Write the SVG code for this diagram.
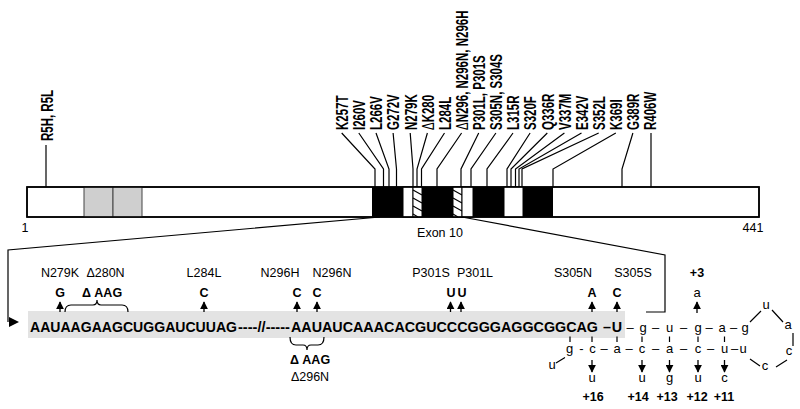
<svg xmlns="http://www.w3.org/2000/svg" width="800" height="409" viewBox="0 0 800 409">
<style>
  .ln{stroke:#000;stroke-width:1.2;fill:none}
  .rl{font-family:"Liberation Sans",Arial,sans-serif;font-weight:bold;font-size:11.5px;fill:#000}
  .rl .d{font-weight:normal}
  .lab{font-family:"Liberation Sans",Arial,sans-serif;font-size:12.5px;fill:#000;text-anchor:middle}
  .b{font-family:"Liberation Sans",Arial,sans-serif;font-weight:bold;font-size:12.5px;fill:#000;text-anchor:middle}
  .seq{font-family:"Liberation Sans",Arial,sans-serif;font-weight:bold;font-size:14.3px;fill:#000}
  .lc{font-family:"Liberation Sans",Arial,sans-serif;font-size:13px;fill:#000;text-anchor:middle}
  .ar{stroke:#000;stroke-width:1.3;fill:none;marker-end:url(#ah)}
</style>
<defs>
  <marker id="ah" viewBox="0 0 10 10" refX="9" refY="5" markerWidth="8" markerHeight="8" markerUnits="userSpaceOnUse" orient="auto">
    <path d="M0,0 L10,5 L0,10 z" fill="#000"/>
  </marker>
</defs>
<rect width="800" height="409" fill="#fff"/>

<g id="protein-bar">
  <rect x="27" y="187" width="732" height="30" fill="#fff" stroke="#000" stroke-width="1.5"/>
  <rect x="84" y="187" width="29" height="30" fill="#cfcfcf" stroke="#444" stroke-width="1"/>
  <rect x="113" y="187" width="29" height="30" fill="#cfcfcf" stroke="#444" stroke-width="1"/>
  <rect x="372" y="187" width="31" height="30" fill="#000"/>
  <rect x="403" y="187" width="10" height="30" fill="#fff" stroke="#000" stroke-width="1"/>
  <rect x="413" y="187" width="9" height="30" fill="#fff" stroke="#000" stroke-width="1"/>
  <path class="ln" d="M413,190 L422,195 M413,198 L422,203 M413,206 L422,211 M413,214 L418,217"/>
  <rect x="422" y="187" width="31" height="30" fill="#000"/>
  <rect x="453" y="187" width="9" height="30" fill="#fff" stroke="#000" stroke-width="1"/>
  <path class="ln" d="M453,190 L462,195 M453,198 L462,203 M453,206 L462,211 M453,214 L458,217"/>
  <rect x="462" y="187" width="11" height="30" fill="#fff" stroke="#000" stroke-width="1"/>
  <rect x="473" y="187" width="31" height="30" fill="#000"/>
  <rect x="504" y="187" width="19" height="30" fill="#fff" stroke="#000" stroke-width="1"/>
  <rect x="523" y="187" width="30" height="30" fill="#000"/>
  <rect x="27" y="187" width="732" height="30" fill="none" stroke="#000" stroke-width="1.5"/>
  <text class="lab" x="25" y="232">1</text>
  <text class="lab" x="753" y="232">441</text>
  <text class="lab" x="440" y="237">Exon 10</text>
</g>

<g id="mutation-labels">
  <text class="rl" transform="translate(52.5,141) rotate(-90) scale(1,1.45)">R5H, R5L</text>
  <text class="rl" transform="translate(348,130) rotate(-90) scale(1,1.45)">K257T</text>
  <text class="rl" transform="translate(365.1,130) rotate(-90) scale(1,1.45)">I260V</text>
  <text class="rl" transform="translate(382.3,130) rotate(-90) scale(1,1.45)">L266V</text>
  <text class="rl" transform="translate(399.4,130) rotate(-90) scale(1,1.45)">G272V</text>
  <text class="rl" transform="translate(416.5,130) rotate(-90) scale(1,1.45)">N279K</text>
  <text class="rl" transform="translate(433.7,130) rotate(-90) scale(1,1.45)"><tspan class="d">Δ</tspan>K280</text>
  <text class="rl" transform="translate(450.8,130) rotate(-90) scale(1,1.45)">L284L</text>
  <text class="rl" transform="translate(467.9,130) rotate(-90) scale(1,1.45)"><tspan class="d">Δ</tspan>N296, N296N, N296H</text>
  <text class="rl" transform="translate(485,130) rotate(-90) scale(1,1.45)">P301L, P301S</text>
  <text class="rl" transform="translate(502.2,130) rotate(-90) scale(1,1.45)">S305N, S304S</text>
  <text class="rl" transform="translate(519.3,130) rotate(-90) scale(1,1.45)">L315R</text>
  <text class="rl" transform="translate(536.4,130) rotate(-90) scale(1,1.45)">S320F</text>
  <text class="rl" transform="translate(553.6,130) rotate(-90) scale(1,1.45)">Q336R</text>
  <text class="rl" transform="translate(570.7,130) rotate(-90) scale(1,1.45)">V337M</text>
  <text class="rl" transform="translate(587.8,130) rotate(-90) scale(1,1.45)">E342V</text>
  <text class="rl" transform="translate(605,130) rotate(-90) scale(1,1.45)">S352L</text>
  <text class="rl" transform="translate(622.1,130) rotate(-90) scale(1,1.45)">K369I</text>
  <text class="rl" transform="translate(639.2,130) rotate(-90) scale(1,1.45)">G389R</text>
  <text class="rl" transform="translate(656.3,130) rotate(-90) scale(1,1.45)">R406W</text>
</g>

<g id="connectors">
  <path class="ln" d="M46,145 V187"/>
  <path class="ln" d="M341.7,133 L375,169 V187"/>
  <path class="ln" d="M358.8,133 L383.5,169 V187"/>
  <path class="ln" d="M376,133 L389,169 V187"/>
  <path class="ln" d="M393.1,133 L396.5,169 V187"/>
  <path class="ln" d="M410.2,133 L413,169 V187"/>
  <path class="ln" d="M427.4,133 L417,169 V187"/>
  <path class="ln" d="M444.5,133 L421.5,169 V187"/>
  <path class="ln" d="M461.6,133 L437,169 V187"/>
  <path class="ln" d="M478.7,133 L461,169 V187"/>
  <path class="ln" d="M495.9,133 L471,169 V187"/>
  <path class="ln" d="M513,133 L487,169 V187"/>
  <path class="ln" d="M530.1,133 L507,169 V187"/>
  <path class="ln" d="M547.3,133 L511,169 V187"/>
  <path class="ln" d="M564.4,133 L515.5,169 V187"/>
  <path class="ln" d="M581.5,133 L519,169 V187"/>
  <path class="ln" d="M598.7,133 L522,169 V187"/>
  <path class="ln" d="M615.8,133 L553,169 V187"/>
  <path class="ln" d="M632.9,133 L622,169 V187"/>
  <path class="ln" d="M651,133 V187"/>
  <path class="ln" d="M380,217 L8,250 V322" stroke-width="1.5"/>
  <path d="M9,317 L19,322 L9,327 z" fill="#000"/>
  <path class="ln" d="M462,217 L665,255 V312 H646" stroke-width="1.5"/>
</g>

<g id="sequence">
  <rect x="28" y="311" width="597" height="27" fill="#e3e3e3"/>
  <text class="seq" x="30" y="331.5" textLength="207" lengthAdjust="spacingAndGlyphs">AAUAAGAAGCUGGAUCUUAG</text>
  <text class="seq" x="238" y="331.5" textLength="52" lengthAdjust="spacingAndGlyphs">----//-----</text>
  <text class="seq" x="291" y="331.5" textLength="307" lengthAdjust="spacingAndGlyphs">AAUAUCAAACACGUCCCGGGAGGCGGCAG</text>
  <text class="seq" x="607" y="331.5" text-anchor="middle">–</text>
  <text class="seq" x="617" y="331.5" text-anchor="middle">U</text>
</g>

<g id="mutations-above">
  <text class="lab" x="60" y="276.5">N279K</text>
  <text class="b" x="60" y="296.5">G</text>
  <path class="ar" d="M60,312 V302"/>
  <text class="lab" x="105.5" y="276.5">Δ280N</text>
  <text class="b" x="102" y="296.5">Δ AAG</text>
  <path class="ln" d="M65,312 Q65,305 71,305 H93 Q97,305 97,300 Q97,305 101,305 H122 Q128,305 128,312"/>
  <text class="lab" x="204" y="276.5">L284L</text>
  <text class="b" x="204" y="296.5">C</text>
  <path class="ar" d="M204,312 V302"/>
  <text class="lab" x="280" y="276.5">N296H</text>
  <text class="b" x="297" y="296.5">C</text>
  <path class="ar" d="M297,312 V302"/>
  <text class="lab" x="332" y="276.5">N296N</text>
  <text class="b" x="317" y="296.5">C</text>
  <path class="ar" d="M317,312 V302"/>
  <text class="lab" x="431" y="276.5">P301S</text>
  <text class="lab" x="475" y="276.5">P301L</text>
  <text class="b" x="451" y="296.5">U</text>
  <text class="b" x="462" y="296.5">U</text>
  <path class="ar" d="M450.5,312 V302"/>
  <path class="ar" d="M461,312 V302"/>
  <text class="lab" x="573" y="276.5">S305N</text>
  <text class="b" x="592" y="296.5">A</text>
  <path class="ar" d="M592,312 V302"/>
  <text class="lab" x="633" y="276.5">S305S</text>
  <text class="b" x="617" y="296.5">C</text>
  <path class="ar" d="M617,312 V302"/>
  <text class="b" x="697" y="276.5">+3</text>
  <text class="lc" x="697" y="296.5">a</text>
  <path class="ar" d="M697,313 V302"/>
</g>

<g id="deletion-below">
  <path class="ln" d="M290,337 Q290,345 296,345 H303 Q307,345 307,350 Q307,345 311,345 H318 Q324,345 324,337"/>
  <text class="b" x="310" y="364">Δ AAG</text>
  <text class="lab" x="310" y="381">Δ296N</text>
</g>

<g id="hairpin">
  <text class="lc" x="630" y="331.5">–</text>
  <text class="lc" x="643" y="331.5">g</text>
  <text class="lc" x="655.5" y="331.5">–</text>
  <text class="lc" x="669.5" y="331.5">u</text>
  <text class="lc" x="683.5" y="331.5">–</text>
  <text class="lc" x="698" y="331.5">g</text>
  <text class="lc" x="709" y="331.5">–</text>
  <text class="lc" x="722" y="331.5">a</text>
  <text class="lc" x="733.5" y="331.5">–</text>
  <text class="lc" x="745" y="331.5">g</text>
  <text class="lc" x="766" y="309">u</text>
  <text class="lc" x="788" y="329">a</text>
  <text class="lc" x="789" y="355">c</text>
  <text class="lc" x="765" y="370">c</text>
  <text class="lc" x="569.5" y="353">g</text>
  <text class="lc" x="581.5" y="353">-</text>
  <text class="lc" x="592.5" y="353">c</text>
  <text class="lc" x="604" y="353">–</text>
  <text class="lc" x="617" y="353">a</text>
  <text class="lc" x="629" y="353">–</text>
  <text class="lc" x="642" y="353">c</text>
  <text class="lc" x="655.5" y="353">–</text>
  <text class="lc" x="669.5" y="353">a</text>
  <text class="lc" x="683.5" y="353">–</text>
  <text class="lc" x="698" y="353">c</text>
  <text class="lc" x="710.5" y="353">–</text>
  <text class="lc" x="724.5" y="353">u</text>
  <text class="lc" x="734.5" y="353">–</text>
  <text class="lc" x="743" y="353">u</text>
  <text class="lc" x="552" y="369">u</text>
  <path class="ln" d="M570,336.5 V342 M592,336.5 V342 M617,336.5 V342 M642,336.5 V342 M669.5,336.5 V342 M698,336.5 V342 M724.5,336.5 V342"/>
  <path class="ln" d="M556,363 L565,357.5 M750,322 L761,311 M772,310 L783,322 M793,333 V346 M787,360 L776,367 M760,366 L750,359"/>
  <path class="ar" d="M592,360 V372"/>
  <path class="ar" d="M642,360 V372"/>
  <path class="ar" d="M669.5,360 V372"/>
  <path class="ar" d="M698,360 V372"/>
  <path class="ar" d="M724.5,360 V372"/>
  <text class="lc" x="592" y="382">u</text>
  <text class="lc" x="642" y="382">u</text>
  <text class="lc" x="669.5" y="382">g</text>
  <text class="lc" x="698" y="382">u</text>
  <text class="lc" x="724.5" y="382">c</text>
  <text class="b" x="593" y="401">+16</text>
  <text class="b" x="638" y="401">+14</text>
  <text class="b" x="667" y="401">+13</text>
  <text class="b" x="697" y="401">+12</text>
  <text class="b" x="724" y="401">+11</text>
</g>
</svg>
